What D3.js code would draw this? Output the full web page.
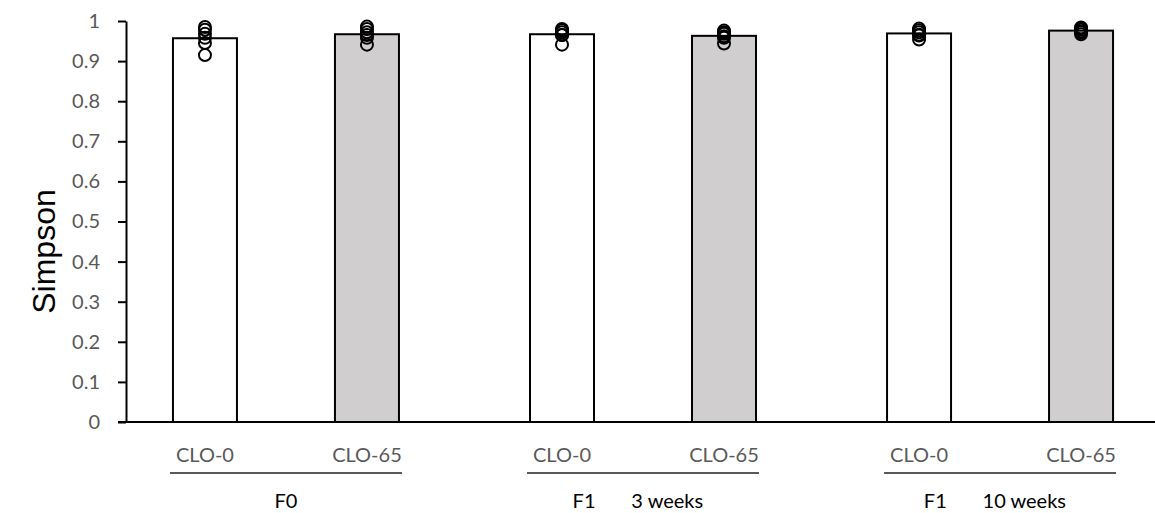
<!DOCTYPE html>
<html>
<head>
<meta charset="UTF-8">
<title>Simpson</title>
<style>
body { margin: 0; background: #fff; }
svg { display: block; }
text { font-family: Lato, "Open Sans", sans-serif; }
</style>
</head>
<body>
<svg id="chart"></svg>
<script src="https://d3js.org/d3.v7.min.js"></script>
<script>
// values
const groups = ["F0", "F1       3 weeks  ", "F1       10 weeks  "];
const conditions = ["CLO-0", "CLO-65"];
const yTicks = [0, 0.1, 0.2, 0.3, 0.4, 0.5, 0.6, 0.7, 0.8, 0.9, 1];

// bar heights (means), CLO-0 then CLO-65
const meanF0 = [0.957, 0.967];
const meanF1w3 = [0.967, 0.963];
const meanF1w10 = [0.969, 0.976];

// individual samples drawn as open circles
const ptsF0 = [
  [0.985, 0.978, 0.968, 0.958, 0.945, 0.915],
  [0.986, 0.980, 0.972, 0.965, 0.958, 0.941]
];
const ptsF1w3 = [
  [0.980, 0.977, 0.972, 0.965, 0.965, 0.941],
  [0.976, 0.972, 0.968, 0.962, 0.958, 0.944]
];
const ptsF1w10 = [
  [0.981, 0.977, 0.972, 0.966, 0.964, 0.954],
  [0.984, 0.981, 0.978, 0.974, 0.972, 0.967]
];

const means = [meanF0, meanF1w3, meanF1w10];
const points = [ptsF0, ptsF1w3, ptsF1w10];
const fills = ["#ffffff", "#d0cece"];

let width = 1155, height = 513;
let margin = {left: 126, right: -5, top: 21, bottom: 91};

let svg = d3.select("#chart")
    .attr("width", width)
    .attr("height", height);

let x = d3.scalePoint()
    .domain(groups)
    .range([margin.left, width - margin.right])
    .padding(0.448);

let inner = d3.scalePoint()
    .domain(conditions)
    .range([-81, 81]);

let barW = 64;

let y = d3.scaleLinear()
    .domain([0, 1])
    .range([height - margin.bottom, margin.top]);

// flat table of bars
let bars = [];
groups.forEach((g, gi) => {
  conditions.forEach((c, ci) => {
    bars.push({group: g, cond: c, ci: ci, value: means[gi][ci], pts: points[gi][ci],
               cx: x(g) + inner(c)});
  });
});

// y axis
let yAxis = svg.append("g")
    .attr("transform", "translate(" + margin.left + ",0)")
    .call(d3.axisLeft(y).tickValues(yTicks).tickSize(8).tickSizeOuter(0).tickPadding(18)
      .tickFormat(d => String(d)));
yAxis.select(".domain").attr("stroke", "#000").attr("stroke-width", 2);
yAxis.selectAll(".tick line").attr("stroke", "#000").attr("stroke-width", 2);
yAxis.selectAll(".tick text")
    .attr("fill", "#595959")
    .style("font-size", "20px");

// bars
svg.append("g")
  .selectAll("rect")
  .data(bars)
  .enter()
  .append("rect")
    .attr("x", d => d.cx - barW / 2)
    .attr("width", barW)
    .attr("y", d => y(d.value))
    .attr("height", d => y(0) - y(d.value))
    .attr("fill", d => fills[d.ci])
    .attr("stroke", "#000")
    .attr("stroke-width", 2);

// baseline
svg.append("line")
    .attr("x1", margin.left - 8)
    .attr("x2", width)
    .attr("y1", y(0))
    .attr("y2", y(0))
    .attr("stroke", "#000")
    .attr("stroke-width", 2);

// sample circles
svg.append("g")
  .selectAll("g")
  .data(bars)
  .enter()
  .append("g")
  .selectAll("circle")
  .data(d => d.pts.map(v => ({cx: d.cx, v: v})))
  .enter()
  .append("circle")
    .attr("cx", d => d.cx)
    .attr("cy", d => y(d.v))
    .attr("r", 6)
    .attr("fill", "none")
    .attr("stroke", "#000")
    .attr("stroke-width", 2);

// category labels
svg.append("g")
  .selectAll("text")
  .data(bars)
  .enter()
  .append("text")
    .attr("x", d => d.cx)
    .attr("y", y(0) + 40)
    .attr("text-anchor", "middle")
    .attr("fill", "#595959")
    .style("font-size", "20px")
    .text(d => d.cond);

// group brackets and labels
let grp = svg.append("g")
  .selectAll("g")
  .data(groups)
  .enter()
  .append("g");

grp.append("line")
    .attr("x1", g => x(g) + inner(conditions[0]) - barW / 2 - 3)
    .attr("x2", g => x(g) + inner(conditions[1]) + barW / 2 + 3)
    .attr("y1", y(0) + 51)
    .attr("y2", y(0) + 51)
    .attr("stroke", "#595959")
    .attr("stroke-width", 2);

grp.append("text")
    .attr("x", g => x(g))
    .attr("y", y(0) + 86)
    .attr("text-anchor", "middle")
    .attr("fill", "#000")
    .style("font-size", "20px")
    .style("white-space", "pre")
    .text(g => g);

// y title
svg.append("text")
    .attr("transform", "translate(55," + (y(0.5) + 30) + ") rotate(-90)")
    .attr("text-anchor", "middle")
    .attr("fill", "#000")
    .style("font-family", "'Liberation Sans', Arial, sans-serif")
    .style("font-size", "32px")
    .text("Simpson");
</script>
</body>
</html>
